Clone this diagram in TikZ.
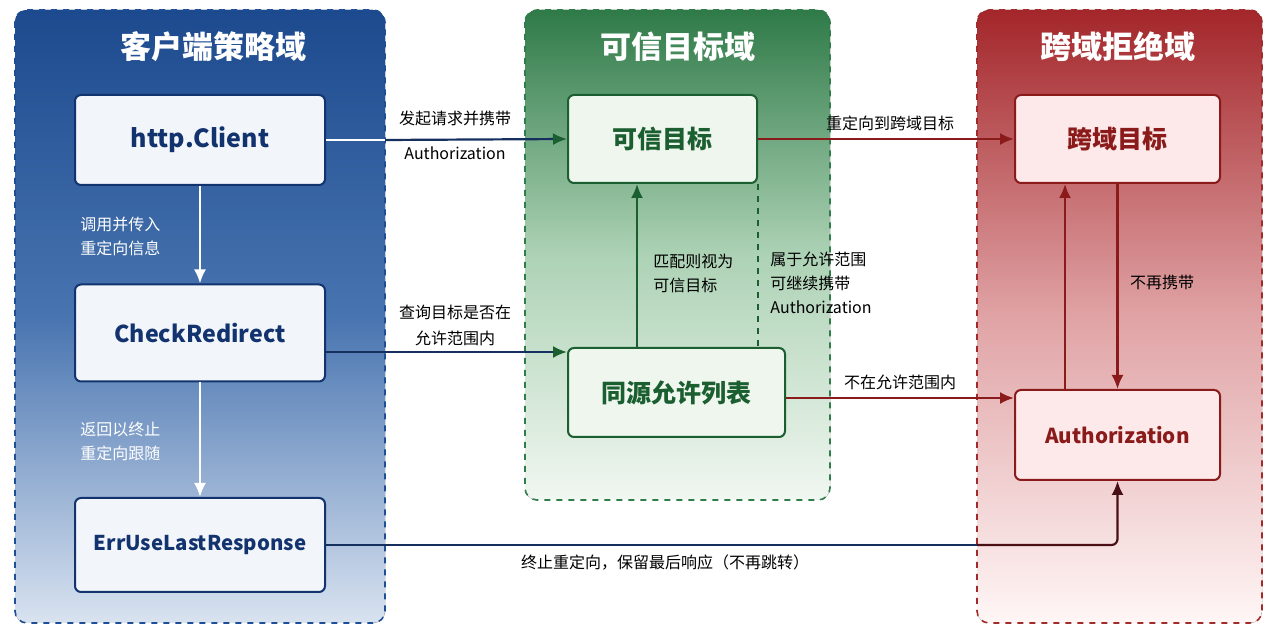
\documentclass[tikz,border=0pt]{standalone}
\usepackage{fontspec}
\setmainfont{Noto Sans CJK SC}
\usetikzlibrary{arrows.meta}
\definecolor{bluedark}{HTML}{1D4A8E}
\definecolor{bluemid}{HTML}{4874B0}
\definecolor{bluelight}{HTML}{D9E3F0}
\definecolor{blueborder}{HTML}{1E4E96}
\definecolor{bluetext}{HTML}{13336E}
\definecolor{bluebox}{HTML}{F2F6FB}
\definecolor{navy}{HTML}{15305E}
\definecolor{greendark}{HTML}{2F7A48}
\definecolor{greenmid}{HTML}{ADD2B5}
\definecolor{greenlight}{HTML}{F1F7F1}
\definecolor{greenborder}{HTML}{2E7D4A}
\definecolor{greentext}{HTML}{1B5E30}
\definecolor{greenbox}{HTML}{EEF6EE}
\definecolor{reddark}{HTML}{A3262A}
\definecolor{redmid}{HTML}{E0A3A5}
\definecolor{redlight}{HTML}{FFF6F6}
\definecolor{redborder}{HTML}{A32A2A}
\definecolor{redtext}{HTML}{8B1A1A}
\definecolor{redbox}{HTML}{FDE9E9}
\definecolor{maroon}{HTML}{4A0F14}
\tikzset{
  panelborder/.style={dashed, line width=0.8pt, rounded corners=6pt},
  paneltitle/.style={text=white, font=\fontsize{15.5}{18}\selectfont\bfseries},
  box/.style={rounded corners=3pt, line width=1pt, align=center, font=\fontsize{12.5}{15}\selectfont\bfseries},
  bluebx/.style={box, draw=bluetext, fill=bluebox, text=bluetext, minimum width=125pt},
  greenbx/.style={box, draw=greentext, fill=greenbox, text=greentext},
  redbx/.style={box, draw=redtext, fill=redbox, text=redtext, minimum width=102.5pt},
  lbl/.style={font=\fontsize{8}{12}\selectfont, text=black, inner sep=0pt},
  wlbl/.style={font=\fontsize{8}{12}\selectfont, text=white, inner sep=0pt, align=left, anchor=west},
  conn/.style={line width=1.1pt},
  tipw/.style={-{Latex[length=7pt,width=6pt]}},
}
\begin{document}
\begin{tikzpicture}[x=0.5pt,y=-0.5pt]
\useasboundingbox (0,0) rectangle (1280,640);
\fill[white] (0,0) rectangle (1280,640);
% panels
\fill[rounded corners=6pt, top color=bluedark, bottom color=bluelight, middle color=bluemid] (15,10) rectangle (385,623);
\draw[panelborder, draw=blueborder] (15,10) rectangle (385,623);
\fill[rounded corners=6pt, top color=greendark, bottom color=greenlight, middle color=greenmid] (525,10) rectangle (830,500);
\draw[panelborder, draw=greenborder] (525,10) rectangle (830,500);
\fill[rounded corners=6pt, top color=reddark, bottom color=redlight, middle color=redmid] (977,10) rectangle (1262,623);
\draw[panelborder, draw=redborder] (977,10) rectangle (1262,623);
\node[paneltitle] (t1) at (213,47) {客户端策略域};
\node[paneltitle] (t2) at (678,47) {可信目标域};
\node[paneltitle] (t3) at (1118,47) {跨域拒绝域};
% nodes
\node[bluebx, minimum height=45pt] (client) at (200,140) {http.Client};
\node[bluebx, minimum height=48.5pt, font=\fontsize{11.6}{14}\selectfont\bfseries] (check) at (200,333) {CheckRedirect};
\node[bluebx, minimum height=47pt, font=\fontsize{10.2}{13}\selectfont\bfseries] (err) at (200,545) {ErrUseLastResponse};
\node[greenbx, minimum width=94.5pt, minimum height=44pt] (trusted) at (662.5,139) {可信目标};
\node[greenbx, minimum width=108.5pt, minimum height=44.5pt] (allow) at (676.5,392.5) {同源允许列表};
\node[redbx, minimum height=44pt] (cross) at (1117.5,139) {跨域目标};
\node[redbx, minimum height=45pt, font=\fontsize{10.3}{13}\selectfont\bfseries] (auth) at (1117.5,435) {Authorization};
% panel edge coordinates
\coordinate (bedge) at (385,140);
\coordinate (redge) at (977,545);
% client -> check
\draw[conn, white, tipw] (client.south) -- (check.north);
\node[wlbl] (l1) at (80,236) {调用并传入\\重定向信息};
% check -> err
\draw[conn, white, tipw] (check.south) -- (err.north);
\node[wlbl] (l2) at (80,441) {返回以终止\\重定向跟随};
% client -> trusted
\draw[conn, white] (client.east) -- (bedge);
\draw[conn, navy, -{Latex[length=7pt,width=6pt,color=greentext]}] (bedge) -- (trusted.west);
\node[lbl] (l3) at (455,118) {发起请求并携带};
\node[lbl] (l4) at (455,153) {Authorization};
% check -> allow
\draw[conn, navy, -{Latex[length=7pt,width=6pt,color=greentext]}] ([yshift=-9.5pt]check.east) -- ([yshift=-9.5pt]check.east -| allow.west);
\node[lbl] (l5) at (455,312) {查询目标是否在};
\node[lbl] (l6) at (455,338) {允许范围内};
% allow -> trusted
\draw[conn, greentext, tipw] ([xshift=-19.75pt]allow.north) -- ([xshift=-19.75pt]allow.north |- trusted.south);
\node[lbl, align=left, anchor=west] (l7) at (653,273) {匹配则视为\\可信目标};
% dashed
\draw[line width=0.8pt, greentext, dashed] (trusted.south east) -- (trusted.south east |- allow.north);
\node[lbl, align=left, anchor=west] (l8) at (770,283) {属于允许范围\\可继续携带\\Authorization};
% trusted -> cross
\draw[conn, redtext, tipw] (trusted.east) -- (cross.west);
\node[lbl] (l9) at (890,123) {重定向到跨域目标};
% allow -> auth
\draw[conn, redtext, tipw] ([yshift=-2.75pt]allow.east) -- ([yshift=-2.75pt]allow.east -| auth.west);
\node[lbl] (l10) at (900,382) {不在允许范围内};
% cross -> auth
\draw[conn, redtext, tipw] (cross.south) -- (auth.north);
\node[lbl] (l11) at (1162,282) {不再携带};
% auth -> cross
\draw[conn, redtext, tipw] ([xshift=-26.25pt]auth.north) -- ([xshift=-26.25pt]auth.north |- cross.south);
% err -> auth
\draw[conn, navy] (err.east) -- (redge);
\draw[conn, maroon, tipw, rounded corners=3pt] (redge) -| (auth.south);
\node[lbl] (l12) at (665,563) {终止重定向，保留最后响应（不再跳转）};
\end{tikzpicture}
\end{document}
